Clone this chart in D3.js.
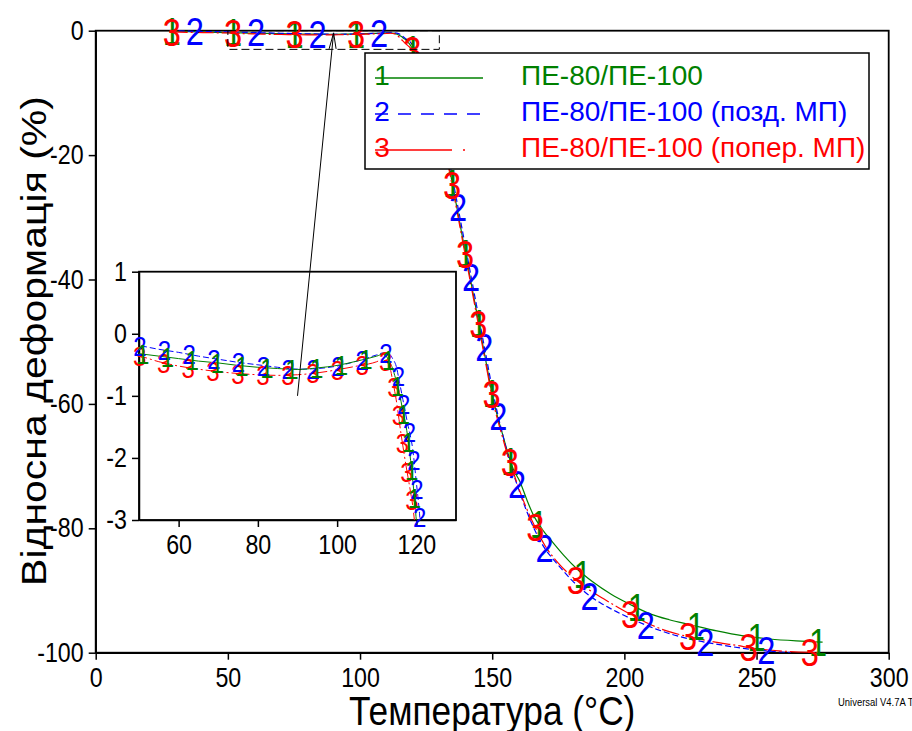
<!DOCTYPE html>
<html>
<head>
<meta charset="utf-8">
<script src="https://cdn.jsdelivr.net/npm/d3@7"></script>
<style>
  body { margin: 0; background: #fff; }
  text { font-family: "Liberation Sans", Arial, sans-serif; }
</style>
</head>
<body>
<svg id="chart" width="912" height="731"></svg>
<script>
// Series 1: ПЕ-80/ПЕ-100
var tempS1 = [28, 35, 42, 50, 55, 60, 65, 70, 75, 80, 85, 90, 95, 100, 105, 110, 111.5, 113, 114.1, 115,
  115.7, 116.6, 117.4, 118.1, 118.7, 119.3, 119.9, 120.6, 121.6, 124, 127, 130, 132, 134, 136, 138, 140,
  142, 144, 146, 148, 150, 152, 154, 156, 158, 160.5, 163, 165.5, 169, 173, 177, 182, 188, 195, 202, 210,
  217, 225, 235, 245, 255, 265, 275];
var defS1 = [-0.05, -0.15, -0.24, -0.32, -0.36, -0.4, -0.44, -0.47, -0.51, -0.54, -0.56, -0.575, -0.55, -0.51,
  -0.44, -0.36, -0.33, -0.42, -0.58, -0.78, -0.95, -1.25, -1.49, -1.8, -2.13, -2.5, -2.94, -3.5, -4.4, -6.5,
  -10.5, -15, -18.5, -22.5, -27, -31.5, -36, -40.5, -45, -49.5, -54, -58.5, -62, -65, -68, -70.5, -72.5,
  -75.3, -77.8, -80.2, -82.3, -84.3, -86.5, -88.6, -90.6, -92.2, -93.8, -94.7, -95.5, -96.5, -97.3, -97.8,
  -98.1, -98.3];

// Series 2: ПЕ-80/ПЕ-100 (позд. МП)
var tempS2 = [28, 35, 42, 50, 55, 60, 65, 70, 75, 80, 85, 90, 95, 100, 105, 110, 111.5, 113.2, 114, 114.9,
  115.8, 116.6, 117.8, 119.1, 120, 120.8, 121.8, 124, 127, 130, 132, 134, 136, 138, 140, 142, 144, 146, 148,
  150, 152, 154, 156, 158, 160, 163, 166, 170, 173.5, 176.8, 180, 183, 187, 191, 197, 205, 212, 220, 228,
  236, 245, 254, 263];
var defS2 = [0, -0.08, -0.14, -0.19, -0.25, -0.3, -0.36, -0.41, -0.46, -0.5, -0.54, -0.57, -0.56, -0.52, -0.44,
  -0.34, -0.31, -0.33, -0.4, -0.52, -0.8, -1.06, -1.45, -1.87, -2.4, -2.9, -3.8, -5.8, -9.8, -14.3, -17.7,
  -21.5, -26, -30.5, -35, -39.5, -44, -48.5, -53, -57.5, -61.5, -65, -68.3, -71.2, -73.7, -77.2, -80.2,
  -83.3, -85.2, -86.8, -88.3, -89.5, -90.9, -92, -93.4, -95, -96.2, -97.3, -98.1, -98.7, -99.3, -99.7, -100];

// Series 3: ПЕ-80/ПЕ-100 (попер. МП)
var tempS3 = [28, 35, 42, 50, 55, 60, 65, 70, 75, 80, 85, 90, 95, 100, 105, 110, 111.5, 113.2, 114, 114.9,
  116.1, 117.4, 118.4, 119.1, 119.8, 121, 123, 126, 129, 132, 134, 136, 138, 140, 142, 144, 146, 148, 150,
  152, 154, 156, 158, 160, 163, 166, 170, 175, 180, 186, 192, 198, 204, 210, 216, 225, 233, 242, 251, 262, 274];
var defS3 = [-0.2, -0.27, -0.32, -0.36, -0.45, -0.52, -0.57, -0.61, -0.64, -0.66, -0.67, -0.66, -0.63, -0.58,
  -0.52, -0.45, -0.41, -0.52, -0.75, -1.06, -1.6, -2.13, -2.5, -2.78, -3.2, -4.2, -6.3, -10.3, -14.8, -19.3,
  -23, -27.5, -32, -36.5, -41, -45.5, -50, -54.5, -59, -62.5, -65.5, -68.5, -71, -73.5, -76.8, -79.6, -82.8,
  -85.6, -87.7, -89.7, -91.3, -92.8, -94.2, -95.5, -96.5, -97.5, -98.2, -98.8, -99.4, -99.8, -100];

var seriesLabels = ["ПЕ-80/ПЕ-100", "ПЕ-80/ПЕ-100 (позд. МП)", "ПЕ-80/ПЕ-100 (попер. МП)"];
var seriesMarks = ["1", "2", "3"];
var xTitle = "Температура (°C)";
var yTitle = "Відносна деформація (%)";

var colors = ["#008000", "#0000ff", "#ff0000"];
var dashes = [null, "6,3", "18,3,2,3"];
var squeeze = 0.86; // the original picture is a little narrow

function zip(t, v) { return t.map((d, i) => [d, v[i]]); }
var series = [zip(tempS1, defS1), zip(tempS2, defS2), zip(tempS3, defS3)];

var svg = d3.select("#chart");

// main scales
var x = d3.scaleLinear().domain([0, 300]).range([95.7, 888.7]);
var y = d3.scaleLinear().domain([-100, 0]).range([652.7, 30.7]);

// inset scales
var xi = d3.scaleLinear().domain([50, 130]).range([139, 456]);
var yi = d3.scaleLinear().domain([-3, 1]).range([520, 271.7]);

var defs = svg.append("defs");
defs.append("clipPath").attr("id", "clipMain").append("rect")
  .attr("x", x(0)).attr("y", y(0) - 1).attr("width", x(300) - x(0)).attr("height", y(-100) - y(0) + 1);
defs.append("clipPath").attr("id", "clipInset").append("rect")
  .attr("x", xi(50)).attr("y", yi(1)).attr("width", xi(130) - xi(50)).attr("height", yi(-3) - yi(1));

function styleTicks(g, fontSize) {
  g.selectAll(".tick text")
    .style("font-size", fontSize + "px")
    .attr("fill", "#000")
    .attr("transform", "scale(" + squeeze + ",1)");
  g.selectAll("line, path").attr("stroke", "#000").attr("stroke-width", 1.5);
}

function drawAxes(g, xs, ys, xMajor, xMinor, yMajor, yMinor, fontSize) {
  var gx = g.append("g").attr("transform", "translate(0," + ys.range()[0] + ")");
  gx.call(d3.axisBottom(xs).tickValues(xMinor).tickSize(4).tickSizeOuter(0).tickFormat(""));
  gx.call(d3.axisBottom(xs).tickValues(xMajor).tickSize(7).tickSizeOuter(0).tickPadding(8)
    .tickFormat(d => String(d)));
  styleTicks(gx, fontSize);

  var gy = g.append("g").attr("transform", "translate(" + xs.range()[0] + ",0)");
  gy.call(d3.axisLeft(ys).tickValues(yMinor).tickSize(4).tickSizeOuter(0).tickFormat(""));
  gy.call(d3.axisLeft(ys).tickValues(yMajor).tickSize(7).tickSizeOuter(0).tickPadding(7)
    .tickFormat(d => String(d)));
  styleTicks(gy, fontSize);

  g.append("rect")
    .attr("x", xs.range()[0]).attr("y", ys.range()[1])
    .attr("width", xs.range()[1] - xs.range()[0]).attr("height", ys.range()[0] - ys.range()[1])
    .attr("fill", "none").attr("stroke", "#000").attr("stroke-width", 1.8);
}

// number markers spaced evenly along the drawn curve
// (distance measured before the horizontal squeeze of the original)
function addMarkers(layer, node, label, color, step, offset, box, fontSize) {
  var total = node.getTotalLength();
  var L = 0, p = node.getPointAtLength(0);
  while (L < total && p.x < box[0]) { L += 0.5; p = node.getPointAtLength(L); }
  var prev = p, run = 0, need = offset;
  for (; L <= total; L += 0.5) {
    p = node.getPointAtLength(L);
    run += Math.hypot((p.x - prev.x) / squeeze, p.y - prev.y);
    prev = p;
    if (run < need) continue;
    run = 0; need = step;
    if (p.x < box[0] - 0.5 || p.x > box[2] || p.y < box[1] - 1 || p.y > box[3] + 4) continue;
    layer.append("text")
      .attr("transform", "translate(" + p.x + "," + p.y + ") scale(" + squeeze + ",1)")
      .attr("text-anchor", "middle")
      .attr("dy", "0.36em")
      .attr("fill", color)
      .style("font-size", fontSize + "px")
      .text(label);
  }
}

// ---------- main plot ----------
var main = svg.append("g");
drawAxes(main, x, y, d3.range(0, 301, 50), d3.range(0, 301, 12.5),
  d3.range(-100, 1, 20), d3.range(-100, 1, 5), 27);

var mainOrder = [0, 1, 2]; // green, blue, then red on top
var lineMain = d3.line().x(d => x(d[0])).y(d => y(d[1])).curve(d3.curveMonotoneX);
var mainLines = main.append("g").attr("clip-path", "url(#clipMain)");
var mainPaths = [];
mainOrder.forEach(function (k) {
  mainPaths[k] = mainLines.append("path")
    .datum(series[k])
    .attr("d", lineMain)
    .attr("fill", "none")
    .attr("stroke", colors[k])
    .attr("stroke-width", 1.2)
    .attr("stroke-dasharray", dashes[k]);
});
var mainMarks = main.append("g");
var mainOffsets = [2.3, 29, 2.3];
var mainBox = [x(0), y(0), x(300), y(-100)];
mainOrder.forEach(function (k) {
  addMarkers(mainMarks, mainPaths[k].node(), seriesMarks[k], colors[k], 71.2, mainOffsets[k], mainBox, 38);
});

// dashed zoom window
main.append("rect")
  .attr("x", x(50)).attr("y", y(0))
  .attr("width", x(130) - x(50)).attr("height", y(-3) - y(0))
  .attr("fill", "none").attr("stroke", "#000").attr("stroke-width", 1)
  .attr("stroke-dasharray", "8,4");

// axis titles
svg.append("text")
  .attr("transform", "translate(" + ((x(0) + x(300)) / 2) + ",725) scale(" + squeeze + ",1)")
  .attr("text-anchor", "middle")
  .style("font-size", "41px")
  .text(xTitle);
svg.append("text")
  .attr("transform", "translate(46,341) rotate(-90) scale(1," + squeeze + ")")
  .attr("text-anchor", "middle")
  .style("font-size", "41px")
  .text(yTitle);

svg.append("text")
  .attr("transform", "translate(838,706) scale(" + squeeze + ",1)")
  .style("font-size", "11px")
  .text("Universal V4.7A TA Instruments");

// ---------- inset ----------
var inset = svg.append("g");
inset.append("rect")
  .attr("x", xi(50)).attr("y", yi(1))
  .attr("width", xi(130) - xi(50)).attr("height", yi(-3) - yi(1))
  .attr("fill", "#fff");
drawAxes(inset, xi, yi, d3.range(60, 121, 20), d3.range(50, 131, 5),
  d3.range(-3, 1.01, 1), d3.range(-3, 1.01, 0.25), 27);

var insetOrder = [2, 1, 0]; // red, blue, then green on top
var lineInset = d3.line().x(d => xi(d[0])).y(d => yi(d[1])).curve(d3.curveMonotoneX);
var insetLines = inset.append("g").attr("clip-path", "url(#clipInset)");
var insetPaths = [];
insetOrder.forEach(function (k) {
  insetPaths[k] = insetLines.append("path")
    .datum(series[k])
    .attr("d", lineInset)
    .attr("fill", "none")
    .attr("stroke", colors[k])
    .attr("stroke-width", 1)
    .attr("stroke-dasharray", dashes[k]);
});
var insetMarks = inset.append("g");
var insetOffsets = [3.5, 0.1, 0.1];
var insetBox = [xi(50), yi(1), xi(130), yi(-3)];
insetOrder.forEach(function (k) {
  addMarkers(insetMarks, insetPaths[k].node(), seriesMarks[k], colors[k], 28.5, insetOffsets[k], insetBox, 28);
});

// connector from the zoom window to the inset
var tip = [x(90), y(-0.35)];
var tail = [xi(90), yi(-1)];
svg.append("line")
  .attr("x1", tail[0]).attr("y1", tail[1]).attr("x2", tip[0]).attr("y2", tip[1])
  .attr("stroke", "#000").attr("stroke-width", 1);
svg.append("path")
  .attr("d", "M" + (tip[0] - 4.5) + "," + (tip[1] + 16) + "L" + tip[0] + "," + tip[1] +
    "L" + (tip[0] + 2.5) + "," + (tip[1] + 16))
  .attr("fill", "none").attr("stroke", "#000").attr("stroke-width", 1);

// ---------- legend ----------
var legend = svg.append("g");
legend.append("rect")
  .attr("x", 365).attr("y", 53).attr("width", 504).attr("height", 116)
  .attr("fill", "#fff").attr("stroke", "#000").attr("stroke-width", 1.5);
var legendDash = [null, "13,10", "77,11,2,100"];
seriesLabels.forEach(function (name, k) {
  var base = 85 + k * 36;
  legend.append("text")
    .attr("x", 382).attr("y", base)
    .attr("text-anchor", "middle")
    .attr("fill", colors[k])
    .style("font-size", "28px")
    .text(seriesMarks[k]);
  legend.append("line")
    .attr("x1", 375).attr("x2", 483)
    .attr("y1", base - 7).attr("y2", base - 7)
    .attr("stroke", colors[k]).attr("stroke-width", 1.5)
    .attr("stroke-dasharray", legendDash[k]);
  legend.append("text")
    .attr("x", 521).attr("y", base)
    .attr("fill", colors[k])
    .style("font-size", "28px")
    .text(name);
});
</script>
</body>
</html>
